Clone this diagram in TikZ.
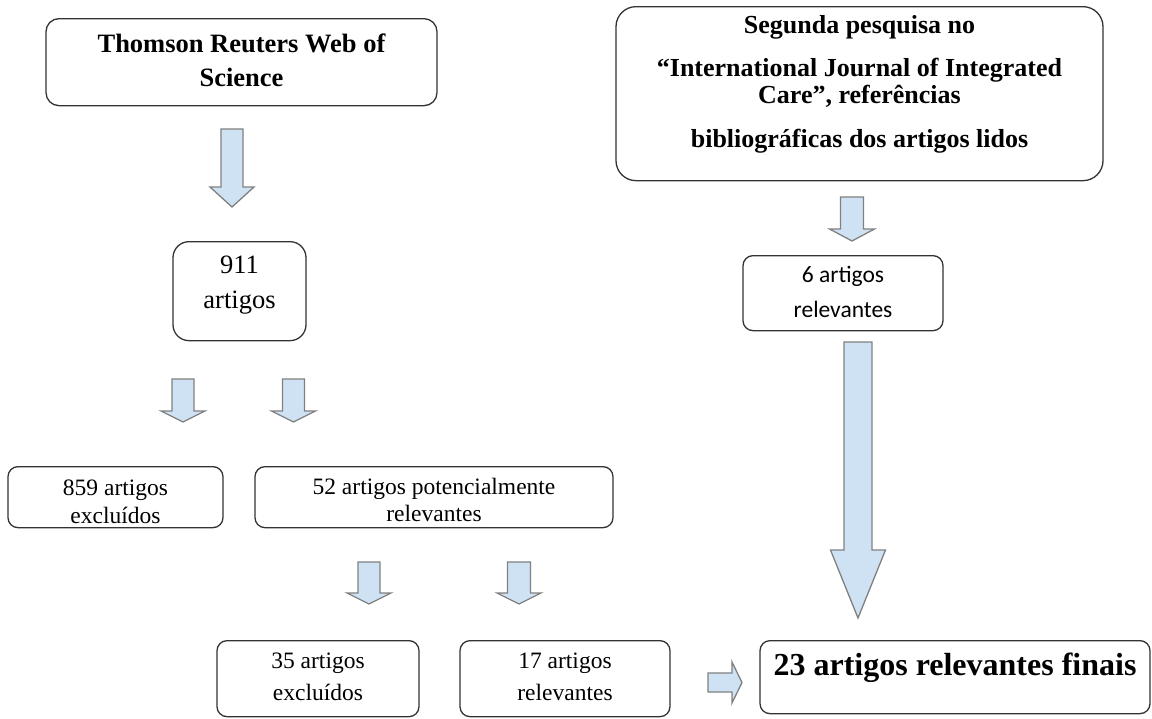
\documentclass[tikz,border=0pt]{standalone}
\usepackage{fontspec}
\setmainfont{Liberation Serif}
\newfontfamily\calibri{Carlito}
\usepackage{tikz}

\definecolor{arrowblue}{HTML}{CFE2F3}
\definecolor{arrowgray}{HTML}{808080}
\definecolor{boxline}{HTML}{333333}

\tikzset{
  flowbox/.style={draw=boxline, line width=1.3pt, rounded corners=10pt, anchor=north,
    inner xsep=0pt, inner ysep=0pt, align=center},
  blkarrow/.style={draw=arrowgray, fill=arrowblue, line width=1.3pt}
}

% block arrow pointing down: x, top, head start, tip, shaft half width, head half width
\newcommand{\dnarrow}[6]{%
  \draw[blkarrow] ({#1-#5},#2) -- ({#1+#5},#2) -- ({#1+#5},#3) -- ({#1+#6},#3)
    -- (#1,#4) -- ({#1-#6},#3) -- ({#1-#5},#3) -- cycle;}

\begin{document}
\begin{tikzpicture}[x=1pt,y=-1pt]
				\useasboundingbox (0,0) rectangle (1152,718);
				\node[flowbox, rounded corners=13pt, minimum width=391pt, text height=68pt, text depth=19pt,
				  font=\fontsize{26.5}{34.5}\selectfont\bfseries] (wos) at (241.5,18) {Thomson Reuters Web of\\ Science};
				\node[flowbox, rounded corners=20pt, minimum width=487pt, text height=140.7pt, text depth=33.3pt,
				  font=\fontsize{26}{27.3}\selectfont\bfseries] (ijic) at (859.5,6)
				  {Segunda pesquisa no\\[15.7pt] “International Journal of Integrated\\ Care”, referências\\[16.1pt] bibliográficas dos artigos lidos};
				\node[flowbox, rounded corners=16pt, minimum width=133pt, text height=66.7pt, text depth=32.3pt,
				  font=\fontsize{26.5}{35}\selectfont] (n911) at (239.5,241) {911\\ artigos};
				\node[flowbox, minimum width=215pt, text height=57.3pt, text depth=3.7pt,
				  font=\fontsize{23.5}{28.3}\selectfont] (n859) at (115.5,466) {859 artigos\\ excluídos};
				\node[flowbox, minimum width=358pt, text height=54.7pt, text depth=6.3pt,
				  font=\fontsize{23.5}{26.7}\selectfont] (n52) at (434,466) {52 artigos potencialmente\\ relevantes};
				\node[flowbox, minimum width=202pt, text height=60pt, text depth=16pt,
				  font=\fontsize{23.5}{32.5}\selectfont] (n35) at (318,640) {35 artigos\\ excluídos};
				\node[flowbox, minimum width=210pt, text height=60pt, text depth=16pt,
				  font=\fontsize{23.5}{32.5}\selectfont] (n17) at (565,640) {17 artigos\\ relevantes};
				\node[flowbox, minimum width=200pt, text height=61.7pt, text depth=13.3pt,
				  font=\calibri\fontsize{23.5}{35}\selectfont] (n6) at (843,255) {6 artigos\\ relevantes};
				\node[flowbox, minimum width=390pt, text height=35pt, text depth=38pt,
				  font=\fontsize{32}{36}\selectfont\bfseries] (n23) at (955,640) {23 artigos relevantes finais};
				% arrows
				\dnarrow{232}{129}{187}{207}{11}{22}
				\dnarrow{183}{379}{411}{422}{11}{22}
				\dnarrow{293.5}{379}{411}{422}{11}{22}
				\dnarrow{369}{562}{593}{604}{11}{22}
				\dnarrow{519}{562}{593}{604}{11.5}{22}
				\dnarrow{852}{197}{229}{241}{11.5}{22.5}
				\dnarrow{858}{342}{550}{618}{14}{27.5}
				\draw[blkarrow] (708,673) -- (732,673) -- (732,662) -- (742,682.5) -- (732,703) -- (732,692) -- (708,692) -- cycle;
			\end{tikzpicture}
\end{document}
